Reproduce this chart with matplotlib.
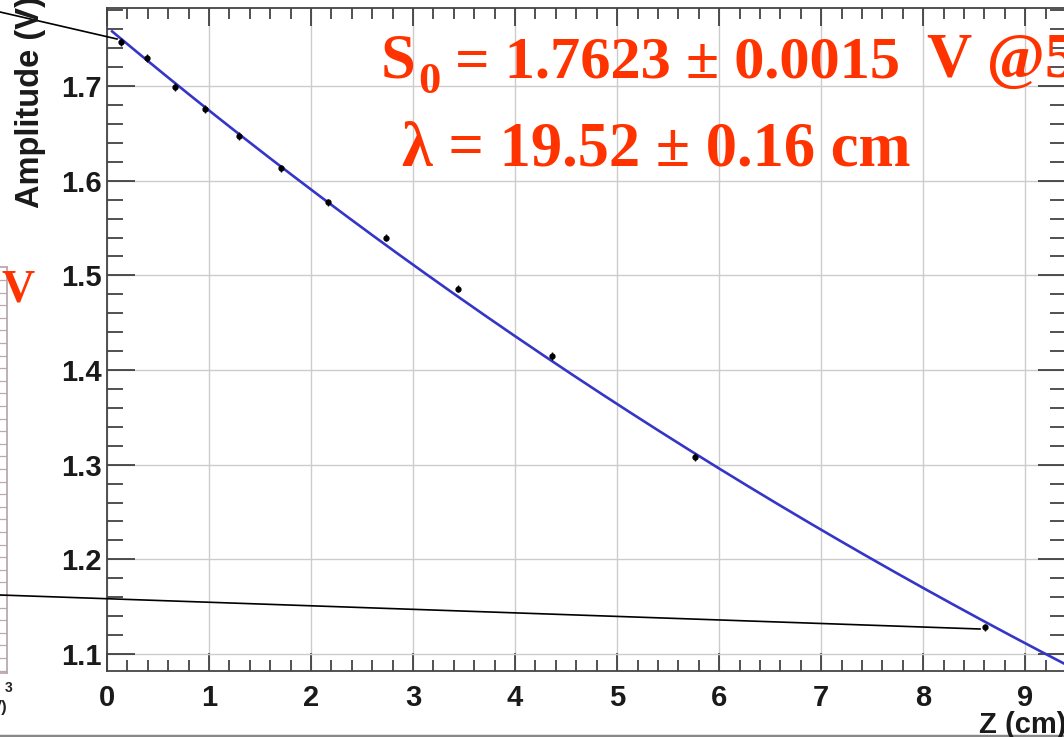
import numpy as np
import matplotlib
matplotlib.use("Agg")
import matplotlib.pyplot as plt
from matplotlib.lines import Line2D

# ---- data ----
z_cm = [0.14, 0.39, 0.67, 0.96, 1.29, 1.71, 2.17, 2.73, 3.44, 4.36, 5.76, 8.61]
amplitude = [1.7466, 1.7296, 1.6990, 1.6757, 1.6470, 1.6130, 1.5770, 1.5400,
             1.4860, 1.4150, 1.3080, 1.1280]
amp_err = [0.004] * len(z_cm)

S0 = 1.7623       # V
LAMBDA = 19.52    # cm
fit_start, fit_end = 0.05, 9.6

xticks = [0, 1, 2, 3, 4, 5, 6, 7, 8, 9]
yticks = [1.1, 1.2, 1.3, 1.4, 1.5, 1.6, 1.7]
ytick_labels = ["1.1", "1.2", "1.3", "1.4", "1.5", "1.6", "1.7"]

line1_main = "S"
line1_sub = "0"
line1_rest = " = 1.7623 ± 0.0015"
line1_unit = "V @5"
text_line2 = "λ = 19.52 ± 0.16 cm"

W, H = 1064, 737
fig = plt.figure(figsize=(W / 100, H / 100), dpi=100)
fig.patch.set_facecolor("white")

def fx(px):
    return px / W

def fy(py):
    return 1 - py / H

ax = fig.add_axes([fx(107), fy(671), 959 / W, 663 / H])
ax.set_xlim(0, 9.4)
ax.set_ylim(1.082, 1.7825)

ax.grid(True, which="major", color="#cccccc", lw=1.0)
ax.set_axisbelow(True)

# fit curve
xf = np.linspace(fit_start, fit_end, 300)
ax.plot(xf, S0 * np.exp(-xf / LAMBDA), color="#3535c8", lw=1.9, zorder=3)

# data points
ax.errorbar(z_cm, amplitude, yerr=amp_err, fmt="o", color="black", ms=3.5,
            elinewidth=1.0, capsize=0, zorder=4)

ax.set_xticks(xticks)
ax.set_yticks(yticks)
ax.set_yticklabels(ytick_labels)
ax.set_xticks(np.arange(0, 9.41, 0.2), minor=True)
ax.set_yticks(np.arange(1.1, 1.781, 0.02), minor=True)

ax.tick_params(axis="both", which="both", direction="in", top=True, right=True,
               color="#333333", width=1.2)
ax.tick_params(axis="x", which="major", length=13, pad=9)
ax.tick_params(axis="x", which="minor", length=8)
ax.tick_params(axis="y", which="major", length=20, pad=4)
ax.tick_params(axis="y", which="minor", length=11.5)
for lab in ax.get_xticklabels() + ax.get_yticklabels():
    lab.set_fontfamily("Liberation Sans")
    lab.set_fontweight("bold")
    lab.set_fontsize(21)
    lab.set_color("#1a1a1a")
for sp in ax.spines.values():
    sp.set_color("#444444")
    sp.set_linewidth(1.3)

# axis titles (ROOT style, aligned at the axis end)
fig.text(fx(31), fy(-4), "Amplitude (V)", rotation=90, ha="center", va="top",
         fontfamily="Liberation Sans", fontweight="bold", fontsize=23.5, color="#1a1a1a")
fig.text(fx(979), fy(733), "Z (cm)", ha="left", va="baseline",
         fontfamily="Liberation Sans", fontweight="bold", fontsize=21, color="#1a1a1a")

# fit results
red = "#ff3300"
serif = dict(fontfamily="Liberation Serif", fontweight="bold", color=red)
renderer = fig.canvas.get_renderer()
t_s = fig.text(fx(381), fy(77), line1_main, ha="left", va="baseline", fontsize=45, **serif)
bb = t_s.get_window_extent(renderer)
x_sub = bb.x1 + 2
t_0 = fig.text(x_sub / W, fy(93), line1_sub, ha="left", va="baseline", fontsize=32, **serif)
bb0 = t_0.get_window_extent(renderer)
fig.text(bb0.x1 / W, fy(77), line1_rest, ha="left", va="baseline", fontsize=43.5, **serif)
fig.text(fx(927), fy(77), line1_unit, ha="left", va="baseline", fontsize=45, **serif)
fig.text(fx(402), fy(166), text_line2, ha="left", va="baseline", fontsize=45, **serif)

# remnants of the neighbouring slide panel
frame_col = "#bba8b0"
fig.add_artist(Line2D([fx(7), fx(7)], [fy(267), fy(673)], color=frame_col, lw=1.3))
fig.add_artist(Line2D([fx(0), fx(7)], [fy(267), fy(267)], color=frame_col, lw=1.3))
fig.add_artist(Line2D([fx(0), fx(7)], [fy(673), fy(673)], color=frame_col, lw=1.3))
for py in np.arange(280, 672, 12.6):
    fig.add_artist(Line2D([fx(0), fx(6)], [fy(py), fy(py)], color=frame_col, lw=0.9))
fig.text(fx(2), fy(302), "V", ha="left", va="baseline",
         fontfamily="Liberation Serif", fontweight="bold", fontsize=33, color=red)
fig.text(fx(5), fy(692), "3", ha="left", va="baseline",
         fontfamily="Liberation Sans", fontweight="bold", fontsize=10, color="#222222")
fig.text(fx(8), fy(712), "V)", ha="right", va="baseline",
         fontfamily="Liberation Sans", fontweight="bold", fontsize=12, color="#222222")

# connector lines
fig.add_artist(Line2D([fx(0), fx(117)], [fy(12), fy(39)], color="black", lw=1.2))
fig.add_artist(Line2D([fx(0), fx(980)], [fy(595), fy(629)], color="black", lw=1.2))

# bottom border
fig.add_artist(Line2D([0, 1], [fy(735.5), fy(735.5)], color="#888888", lw=2.5))

fig.savefig("out.png", dpi=100, facecolor="white")
